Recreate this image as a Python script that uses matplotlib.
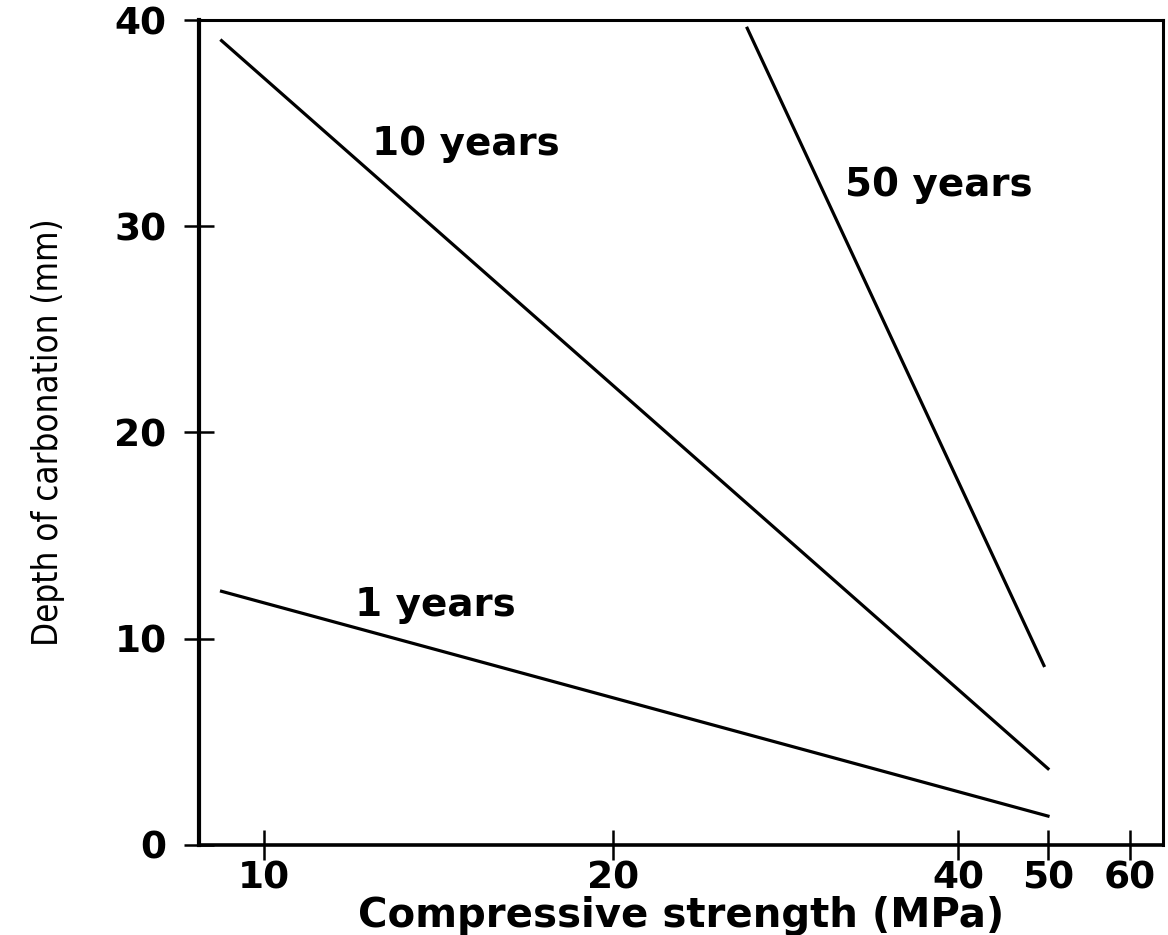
import numpy as np
import matplotlib
matplotlib.use("Agg")
import matplotlib.pyplot as plt

# strength (MPa) -> depth of carbonation (mm)
x_1yr = [9.2, 50]
y_1yr = [12.3, 1.4]
x_10yr = [9.2, 50]
y_10yr = [39.0, 3.7]
x_50yr = [26.2, 49.5]
y_50yr = [39.6, 8.7]

labels = ["1 years", "10 years", "50 years"]
label_x = [11.98, 12.4, 31.9]
label_y = [11.65, 34.0, 32.0]

xticks = [10, 20, 40, 50, 60]
yticks = [0, 10, 20, 30, 40]

# the hand drawn strength axis is roughly logarithmic but not exactly
anchor_vals = np.log10([5, 10, 20, 40, 50, 60, 100])
anchor_pos = np.array([-85, 264, 613, 958, 1048, 1130, 1387], dtype=float)


def fwd(x):
    return np.interp(np.log10(np.clip(x, 1e-9, None)), anchor_vals, anchor_pos)


def inv(p):
    return 10 ** np.interp(p, anchor_pos, anchor_vals)


plt.rcParams['font.family'] = ['DejaVu Sans']

fig = plt.figure(figsize=(11.68, 9.35), dpi=100)
ax = fig.add_axes([0.170, 0.0963, 0.826, 0.8823])
ax.set_xscale('function', functions=(fwd, inv))

ax.plot(x_1yr, y_1yr, color='black', lw=2.3)
ax.plot(x_10yr, y_10yr, color='black', lw=2.3)
ax.plot(x_50yr, y_50yr, color='black', lw=2.3)

for t, tx, ty in zip(labels, label_x, label_y):
    ax.text(tx, ty, t, fontsize=28, fontweight='bold', ha='left', va='center')

ax.set_xlim(8.79, 64.1)
ax.set_ylim(0, 40)
ax.set_xticks(xticks)
ax.set_xticklabels([str(v) for v in xticks])
ax.set_yticks(yticks)
ax.xaxis.set_minor_locator(matplotlib.ticker.NullLocator())

ax.tick_params(axis='both', direction='inout', length=22, width=1.8,
               labelsize=27, colors='black')
ax.tick_params(axis='y', pad=12)
ax.tick_params(axis='x', pad=0)
for lbl in ax.get_xticklabels() + ax.get_yticklabels():
    lbl.set_fontweight('bold')

ax.spines['left'].set_linewidth(3.0)
ax.spines['bottom'].set_linewidth(2.6)
for side in ['top', 'right']:
    ax.spines[side].set_linewidth(2.2)

ax.set_xlabel('Compressive strength (MPa)', fontsize=29, fontweight='bold',
              labelpad=0)
ax.set_ylabel('Depth of carbonation (mm)', fontsize=25, fontstretch='condensed')
ax.yaxis.set_label_coords(-0.138, 0.5)

fig.savefig('out.png', dpi=100)
